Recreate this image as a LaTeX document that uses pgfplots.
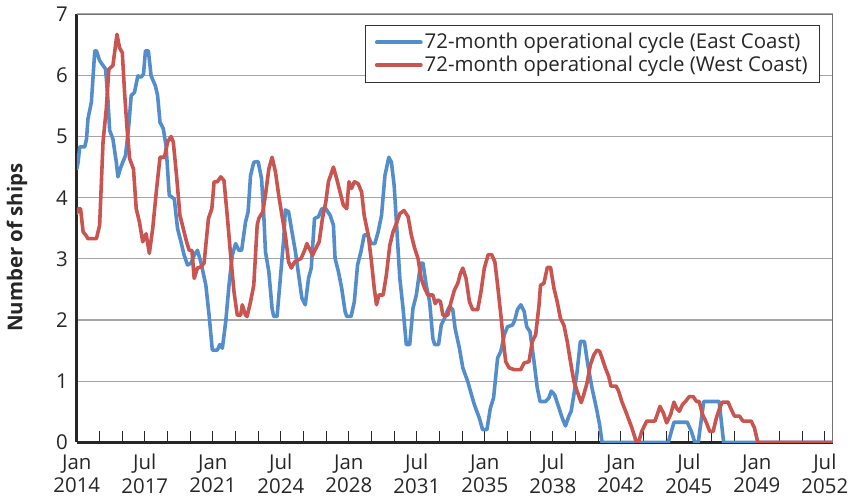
\documentclass[border=0pt]{standalone}
\usepackage{fontspec}
\setmainfont{Open Sans}
\usepackage{pgfplots}
\pgfplotsset{compat=1.18}
\definecolor{eastblue}{RGB}{84,141,204}
\definecolor{westred}{RGB}{201,84,80}
\begin{document}
\fontsize{20.5}{24}\selectfont
\begin{tikzpicture}
\begin{axis}[
  scale only axis, width=759pt, height=430pt,
  xmin=0, xmax=467, ymin=0, ymax=7,
  axis x line*=bottom, axis y line*=left,
  axis line style={black!85, line width=3pt},
  ytick={0,...,7},
  xtick={0,14,...,462},
  xticklabels={{Jan\\2014},{},{},{Jul\\2017},{},{},{Jan\\2021},{},{},{Jul\\2024},{},{},{Jan\\2028},{},{},{Jul\\2031},{},{},{Jan\\2035},{},{},{Jul\\2038},{},{},{Jan\\2042},{},{},{Jul\\2045},{},{},{Jan\\2049},{},{},{Jul\\2052}},
  xticklabel style={align=center, text=black!85, yshift=-5pt},
  yticklabel style={text=black!85, xshift=-2pt},
  tick align=inside,
  major tick length=12pt,
  xtick style={black!85, line width=1pt},
  ytick style={draw=none},
  ymajorgrids,
  grid style={black!35, line width=1.2pt},
  /pgf/number format/assume math mode=true,
  ylabel={\bfseries Number of ships},
  ylabel style={at={(axis description cs:-0.079,0.455)}, anchor=center, text=black!85},
  legend style={at={(0.983,0.975)}, anchor=north east, draw=black!80, line width=0.8pt,
    inner xsep=10pt, inner ysep=6pt, row sep=0pt, font=\fontsize{20.5}{24}\selectfont, text=black!85},
  legend cell align=left,
  legend image code/.code={\draw[#1] (0pt,0pt) -- (44pt,0pt);},
  legend image post style={line width=4pt},
  every axis plot/.append style={line width=3.6pt, line join=round, line cap=round},
]
\draw[black!55, line width=1.2pt] (rel axis cs:0,1) -- (rel axis cs:1,1) -- (rel axis cs:1,0);
\addplot[eastblue, sharp plot] coordinates {
(0,4.47)(0.8,4.58)(1.8,4.83)(4.9,4.83)(6.0,4.96)(6.9,5.29)(9.0,5.56)(11.1,6.40)(12.1,6.40)(14.1,6.24)
(16.2,6.16)(17.8,6.10)(19.2,5.61)(20.3,5.10)(22.3,4.96)(24.4,4.58)(25.4,4.34)(26.8,4.47)(28.4,4.58)(30.1,4.69)
(32.1,5.18)(33.6,5.67)(35.6,5.72)(37.7,5.99)(39.7,5.97)(41.2,6.02)(42.4,6.40)(44.2,6.40)(45.9,5.99)(48.5,5.83)
(49.9,5.67)(51.4,5.23)(53.4,5.13)(55.1,4.85)(57.1,4.04)(60.2,3.98)(62.2,3.50)(64.3,3.28)(66.3,3.06)(68.4,2.90)
(70.5,2.93)(72.5,3.06)(74.5,3.14)(76.6,2.95)(79.7,2.57)(81.7,2.08)(83.7,1.51)(86.8,1.51)(88.3,1.60)(89.9,1.54)
(92.0,1.98)(94.0,2.57)(96.0,3.06)(98.1,3.25)(100.1,3.14)(101.8,3.14)(104.2,3.60)(105.8,3.77)(107.3,4.36)(109.3,4.58)
(112.0,4.59)(114.1,4.31)(115.5,3.71)(116.5,3.12)(118.6,2.79)(120.6,2.19)(121.6,2.06)(123.7,2.06)(125.7,2.68)(127.8,3.33)
(128.8,3.80)(130.8,3.77)(132.9,3.44)(135.0,3.12)(137.0,2.74)(139.0,2.36)(141.1,2.25)(143.1,2.68)(144.8,2.85)(146.8,3.66)
(149.3,3.69)(151.3,3.82)(153.8,3.82)(156.5,3.71)(158.5,3.55)(159.5,3.01)(161.6,2.79)(163.6,2.52)(165.7,2.14)(166.7,2.06)
(169.4,2.06)(171.4,2.30)(173.4,2.90)(175.5,3.12)(177.5,3.39)(179.6,3.39)(182.0,3.25)(184.1,3.25)(186.1,3.44)(188.2,3.71)
(190.3,4.36)(192.7,4.66)(194.3,4.58)(196.0,4.20)(197.4,3.60)(199.5,2.68)(201.5,2.19)(203.5,1.60)(205.6,1.60)(207.6,2.19)
(209.7,2.41)(212.4,2.93)(213.8,2.93)(215.8,2.57)(217.9,2.30)(219.9,1.70)(221.0,1.60)(223.4,1.60)(225.1,1.92)(227.1,2.03)
(228.7,2.14)(230.2,2.22)(232.2,2.17)(233.6,1.87)(236.3,1.54)(238.4,1.22)(241.4,1.00)(243.1,0.84)(245.5,0.62)(248.6,0.40)
(250.6,0.21)(253.3,0.21)(255.4,0.56)(257.4,0.73)(259.9,1.38)(261.9,1.49)(264.0,1.76)(266.0,1.89)(269.1,1.92)(270.5,2.00)
(272.1,2.17)(274.2,2.25)(276.3,2.14)(277.9,1.89)(279.9,1.81)(282.4,1.32)(284.4,0.89)(286.1,0.67)(289.5,0.67)(291.6,0.73)
(293.0,0.84)(295.1,0.78)(297.1,0.62)(299.8,0.40)(301.8,0.27)(303.9,0.43)(305.3,0.51)(307.0,0.78)(309.0,1.16)(311.0,1.65)
(313.5,1.65)(315.6,1.27)(318.2,0.89)(320.9,0.56)(322.9,0.29)(324.4,0)(365.3,0)(368.8,0.33)(377.0,0.33)(379.6,0.18)
(381.7,0)(383.8,0)(387.2,0.67)(396.7,0.67)(399.5,0)(467,0)
};
\addlegendentry{72-month operational cycle (East Coast)}
\addplot[westred, sharp plot] coordinates {
(0,3.74)(0.8,3.82)(2.3,3.82)(3.9,3.44)(5.5,3.39)(6.9,3.33)(12.1,3.33)(14.1,3.55)(16.2,4.91)(18.2,5.45)
(19.8,6.10)(22.3,6.16)(24.8,6.67)(26.4,6.45)(28.1,6.37)(29.5,5.72)(30.9,5.18)(32.6,4.64)(35.0,4.47)(36.7,3.82)
(38.7,3.60)(40.7,3.28)(42.8,3.41)(44.8,3.09)(46.9,3.50)(49.3,4.15)(51.4,4.66)(54.1,4.66)(56.1,4.91)(58.2,5.00)
(59.6,4.91)(61.6,4.36)(63.7,3.71)(65.7,3.50)(67.8,3.28)(69.4,3.14)(71.1,3.14)(72.5,2.68)(74.5,2.85)(76.6,2.87)
(78.6,2.93)(81.3,3.66)(83.4,3.82)(84.8,4.26)(86.8,4.26)(88.9,4.34)(90.9,4.28)(92.9,3.71)(95.0,3.06)(97.1,2.46)
(99.1,2.08)(101.2,2.08)(102.2,2.25)(104.2,2.08)(105.2,2.06)(107.3,2.30)(109.3,2.57)(111.4,3.55)(112.4,3.66)(114.9,3.77)
(116.5,4.04)(118.6,4.47)(120.6,4.66)(122.7,4.42)(124.7,4.04)(126.7,3.71)(128.8,3.39)(130.8,2.95)(132.5,2.85)(134.5,2.95)
(136.6,2.98)(138.6,3.01)(140.7,3.14)(142.1,3.25)(144.2,3.14)(145.6,3.06)(147.6,3.17)(149.7,3.28)(151.7,3.66)(153.8,3.93)
(155.4,4.26)(158.5,4.50)(160.5,4.31)(162.6,4.09)(164.6,3.88)(166.7,3.82)(168.1,4.26)(169.7,4.15)(171.4,4.26)(173.8,4.23)
(175.9,4.09)(177.5,3.71)(180.0,3.39)(182.0,2.95)(183.7,2.52)(185.1,2.25)(186.6,2.41)(189.2,2.41)(191.2,2.74)(193.3,3.22)
(195.3,3.44)(197.4,3.58)(199.5,3.74)(202.1,3.79)(204.6,3.69)(206.6,3.39)(208.7,3.17)(210.7,3.01)(212.7,2.68)(214.8,2.52)
(216.8,2.41)(219.9,2.41)(221.3,2.27)(223.0,2.33)(224.6,2.30)(226.1,2.08)(229.1,2.08)(231.2,2.30)(233.2,2.49)(235.3,2.60)
(236.9,2.76)(238.4,2.85)(240.4,2.68)(242.5,2.30)(244.5,2.17)(247.6,2.17)(249.6,2.46)(251.7,2.85)(254.1,3.07)(256.2,3.07)
(258.2,2.95)(259.9,2.57)(261.9,2.08)(263.5,1.65)(264.9,1.32)(267.0,1.22)(270.1,1.19)(274.2,1.19)(276.3,1.30)(279.3,1.32)
(281.3,1.65)(283.4,1.76)(285.5,2.25)(286.4,2.57)(288.5,2.60)(290.6,2.86)(292.6,2.86)(294.7,2.52)(296.7,2.30)(298.7,2.03)
(300.8,1.92)(302.9,1.65)(304.9,1.32)(307.0,1.00)(309.0,0.84)(311.5,0.65)(313.1,0.78)(315.1,0.97)(317.2,1.27)(319.3,1.43)
(321.3,1.51)(322.9,1.49)(324.4,1.38)(326.4,1.22)(328.5,1.08)(329.9,0.92)(333.1,0.92)(334.6,0.84)(336.6,0.67)(339.7,0.46)
(342.8,0.24)(345.4,0.02)(346.9,0)(348.9,0.18)(352.0,0.35)(357.1,0.35)(360.2,0.59)(362.3,0.48)(364.3,0.32)(366.8,0.46)
(368.8,0.66)(370.4,0.56)(372.1,0.51)(374.1,0.62)(376.2,0.68)(378.3,0.75)(380.7,0.75)(382.7,0.67)(384.4,0.67)(386.4,0.46)
(388.9,0.32)(390.9,0.18)(393.0,0.18)(395.0,0.40)(397.0,0.56)(398.7,0.66)(402.2,0.66)(404.2,0.54)(406.2,0.43)(409.3,0.43)
(411.4,0.35)(416.5,0.35)(418.5,0.24)(420.6,0)(467,0)
};
\addlegendentry{72-month operational cycle (West Coast)}
\end{axis}
\end{tikzpicture}
\end{document}
